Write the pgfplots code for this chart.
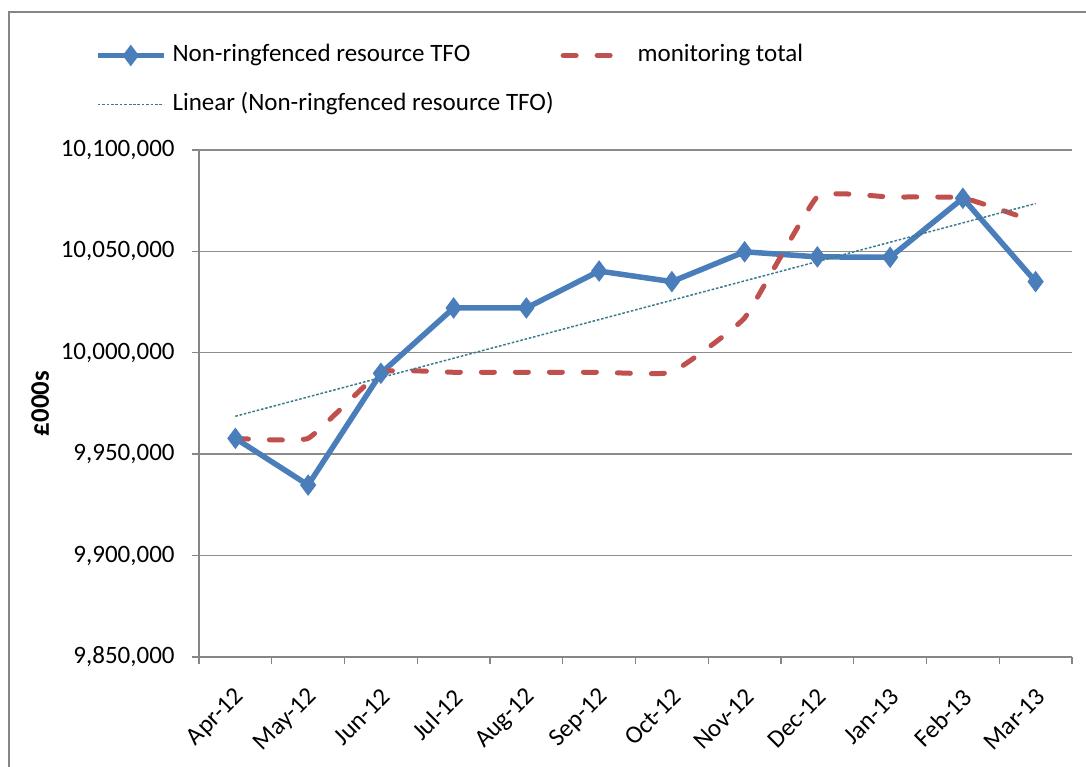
\documentclass[border=0pt]{standalone}
\usepackage{fontspec}
\setmainfont{Carlito}
\usepackage{pgfplots}
\pgfplotsset{compat=1.18}

\definecolor{tfoblue}{HTML}{4A7EBB}
\definecolor{monred}{HTML}{C0504D}
\definecolor{trendteal}{HTML}{3B7B8C}
\definecolor{gridgray}{HTML}{8C8C8C}
\definecolor{framegray}{HTML}{868686}

\begin{document}
\begin{tikzpicture}
\begin{axis}[
  name=ax,
  at={(0,0)}, anchor=south west,
  scale only axis,
  width=436.5bp, height=253.5bp,
  xmin=-0.5, xmax=11.5,
  ymin=9850000, ymax=10100000,
  xtick={0,...,11},
  xticklabels={Apr-12,May-12,Jun-12,Jul-12,Aug-12,Sep-12,Oct-12,Nov-12,Dec-12,Jan-13,Feb-13,Mar-13},
  minor xtick={-0.5,0.5,...,11.5},
  ytick={9850000,9900000,9950000,10000000,10050000,10100000},
  scaled y ticks=false,
  axis x line*=bottom, axis y line*=left,
  axis line style={-, draw=framegray, line width=0.7bp},
  tick align=outside,
  major tick length=3.5bp, minor tick length=3.5bp,
  tick style={draw=framegray, line width=0.7bp},
  major x tick style={draw=none},
  ymajorgrids,
  grid style={gridgray, line width=0.7bp},
  tick label style={font=\fontsize{12.5bp}{15bp}\selectfont, black, inner sep=0pt},
  yticklabel style={/pgf/number format/fixed, /pgf/number format/1000 sep={,},
    /pgf/number format/assume math mode=true, anchor=east, xshift=-8.5bp},
  xticklabel style={xshift=2.5bp, yshift=-14.5bp, rotate=45, anchor=east},
  ylabel={£000s},
  ylabel style={at={(axis description cs:-0.182,0.5)}, anchor=center,
    font=\fontsize{13.4bp}{16bp}\selectfont\bfseries},
  legend columns=2,
  legend cell align=left,
  legend image code/.code={\draw[mark repeat=2,mark phase=2,#1]
    plot coordinates {(0bp,0bp)(16.5bp,0bp)(33bp,0bp)};},
  legend style={at={(axis description cs:-0.1191,1.210)}, anchor=north west,
    draw=none, fill=none, inner sep=0pt, outer sep=0pt,
    font=\fontsize{12.5bp}{15bp}\selectfont,
    nodes={inner sep=0pt, text height=9bp, text depth=3bp},
    row sep=12.5bp,
    /tikz/every odd column/.append style={column sep=3bp},
    /tikz/every even column/.append style={column sep=3.5bp}},
  clip=false,
]
\addplot[tfoblue, line width=2.75bp, mark=diamond*, mark size=5bp,
  mark options={solid, fill=tfoblue, line width=0.5bp}] coordinates {
  (0, 9957800) (1, 9934800) (2, 9989900) (3, 10022100) (4, 10022100)
  (5, 10040300) (6, 10035100) (7, 10049800) (8, 10047300) (9, 10047100)
  (10, 10076200) (11, 10035100)
};
\addlegendentry{Non-ringfenced resource TFO}
\addplot[monred, line width=2.5bp, dash pattern=on 6.5bp off 10.5bp,
  line cap=round, smooth, tension=0.2] coordinates {
  (0, 9957800) (1, 9957800) (2, 9990400) (3, 9990400) (4, 9990400)
  (5, 9990400) (6, 9990400) (7, 10017200) (8, 10077000) (9, 10076800)
  (10, 10076400) (11, 10064600)
};
\addlegendentry{monitoring total}
\addplot[trendteal, line width=0.75bp, dash pattern=on 1.3bp off 0.9bp] coordinates {
  (0, 9968700) (11, 10073600)
};
\addlegendentry{Linear (Non-ringfenced resource TFO)}
\end{axis}
\draw[framegray, line width=1bp] ([shift={(-94.85bp,-55bp)}]ax.south west)
  -- ([shift={(-94.85bp,322.5bp)}]ax.south west) -- ([shift={(443.5bp,322.5bp)}]ax.south west);
\pgfresetboundingbox
\useasboundingbox ([shift={(-99.5bp,-55bp)}]ax.south west) rectangle ([shift={(443.5bp,328.5bp)}]ax.south west);
\end{tikzpicture}
\end{document}
